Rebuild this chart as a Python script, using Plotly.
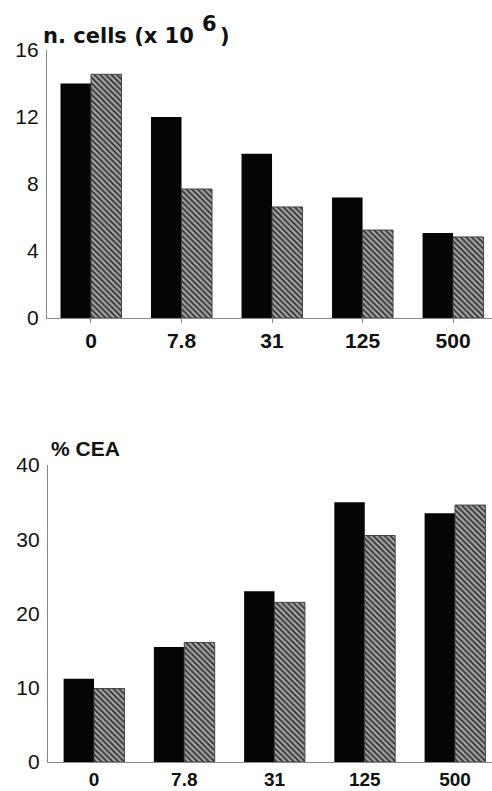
import plotly.graph_objects as go

categories = ["0", "7.8", "31", "125", "500"]
cells_black = [14.0, 12.0, 9.8, 7.2, 5.07]
cells_hatched = [14.55, 7.7, 6.63, 5.25, 4.84]
cea_black = [11.2, 15.5, 23.0, 35.0, 33.5]
cea_hatched = [9.9, 16.1, 21.5, 30.5, 34.6]
cells_ticks = [0, 4, 8, 12, 16]
cea_ticks = [0, 10, 20, 30, 40]

W, H = 492, 791
ML, MR, MT, MB = 47, 0, 50, 29
PW, PH = W - ML - MR, H - MT - MB

def px_y(Y):
    return (H - MB - Y) / PH

def px_x(X):
    return (X - ML) / PW

hatch = dict(shape="\\", fgcolor="#2e2e2e", bgcolor="#a4a4a4", size=4, solidity=0.42)
fig = go.Figure()
fig.add_trace(go.Bar(x=categories, y=cells_black, marker=dict(color="#050505", line=dict(width=0)),
                     xaxis="x", yaxis="y", showlegend=False))
fig.add_trace(go.Bar(x=categories, y=cells_hatched, marker=dict(color="#888", pattern=hatch,
                     line=dict(width=1, color="#444")), xaxis="x", yaxis="y", showlegend=False))
fig.add_trace(go.Bar(x=categories, y=cea_black, marker=dict(color="#050505", line=dict(width=0)),
                     xaxis="x2", yaxis="y2", showlegend=False))
fig.add_trace(go.Bar(x=categories, y=cea_hatched, marker=dict(color="#888", pattern=hatch,
                     line=dict(width=1, color="#444")), xaxis="x2", yaxis="y2", showlegend=False))

tickfont_y = dict(family="Liberation Sans, Arial", size=21, color="#111")
tickfont_x = dict(family="Liberation Sans, Arial", size=21, color="#111", weight="bold")
axcol = "#8a8a8a"

xcommon = dict(type="category", showgrid=False, zeroline=False, showline=True, linecolor=axcol,
               linewidth=1.2, ticks="outside", ticklen=4, tickcolor=axcol, tickfont=tickfont_x,
               fixedrange=True, automargin=False)
ycommon = dict(showgrid=False, zeroline=False, showline=True, linecolor=axcol, linewidth=1.2,
               ticks="", tickfont=tickfont_y, ticklabelstandoff=3, fixedrange=True,
               automargin=False)

top_dom = [px_y(318), px_y(50)]
bot_dom = [px_y(762), px_y(465)]

title_font = dict(family="DejaVu Sans", size=21, color="#111", weight="bold")

fig.update_layout(
    template="none",
    width=W, height=H,
    margin=dict(l=ML, r=MR, t=MT, b=MB, autoexpand=False),
    paper_bgcolor="white", plot_bgcolor="white",
    barmode="group", bargap=0.326, bargroupgap=0,
    xaxis=dict(xcommon, domain=[0, 1], range=[-0.486, 4.43], anchor="y"),
    yaxis=dict(ycommon, domain=top_dom, range=[0, 16], tickvals=cells_ticks, anchor="x"),
    xaxis2=dict(xcommon, domain=[px_x(48), 1], range=[-0.51, 4.41], anchor="y2", ticklen=0,
                tickfont=dict(tickfont_x, size=19)),
    yaxis2=dict(ycommon, domain=bot_dom, range=[0, 40], tickvals=cea_ticks, anchor="x2"),
    annotations=[
        dict(text="n. cells (x 10", xref="paper", yref="paper",
             x=px_x(41), y=px_y(36), xanchor="left", yanchor="middle", showarrow=False,
             font=title_font),
        dict(text="6", xref="paper", yref="paper",
             x=px_x(200), y=px_y(24), xanchor="left", yanchor="middle", showarrow=False,
             font=title_font),
        dict(text=")", xref="paper", yref="paper",
             x=px_x(218), y=px_y(36), xanchor="left", yanchor="middle", showarrow=False,
             font=title_font),
        dict(text="% CEA", xref="paper", yref="paper",
             x=px_x(49), y=px_y(448), xanchor="left", yanchor="middle", showarrow=False,
             font=dict(family="Liberation Sans, Arial", size=21, color="#111", weight="bold")),
    ],
)

fig.write_html("out.html", config={"displayModeBar": False},
               post_script="document.body.style.margin='0';document.body.style.overflow='hidden';")
